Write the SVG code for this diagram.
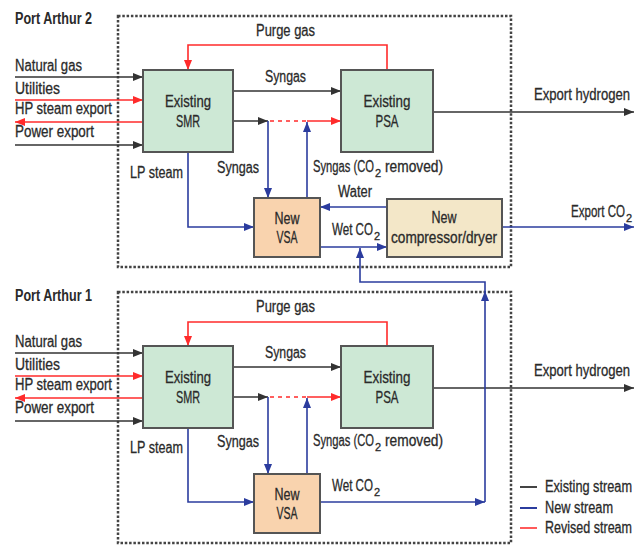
<svg xmlns="http://www.w3.org/2000/svg" width="637" height="545" viewBox="0 0 637 545">
<defs>
<style>
.t{font-family:"Liberation Sans",Arial,sans-serif;font-size:16px;fill:#2a2a2a;stroke:#2a2a2a;stroke-width:0.3;}
.s{font-size:11px;}
.bx{font-size:17px;}
.b{font-weight:bold;stroke-width:0;}
.c{text-anchor:middle;}
.frame{fill:none;stroke:#444;stroke-width:2.5;stroke-dasharray:2.5 1.8;}
.box{stroke:#555;stroke-width:2;}
.g{fill:#cde8d5;}
.p{fill:#f9d3ae;}
.y{fill:#f3e7c8;}
.k{fill:none;stroke:#333;stroke-width:1.6;}
.r{fill:none;stroke:#ff2b2b;stroke-width:1.6;}
.rd{fill:none;stroke:#ff2b2b;stroke-width:1.6;stroke-dasharray:4 4;}
.u{fill:none;stroke:#2b3c9e;stroke-width:1.6;}
</style>
<marker id="ak" viewBox="0 0 10 8" refX="10" refY="4" markerWidth="10" markerHeight="8" markerUnits="userSpaceOnUse" orient="auto"><path d="M0,0L10,4L0,8z" fill="#333"/></marker>
<marker id="ar" viewBox="0 0 10 8" refX="10" refY="4" markerWidth="10" markerHeight="8" markerUnits="userSpaceOnUse" orient="auto"><path d="M0,0L10,4L0,8z" fill="#ff2b2b"/></marker>
<marker id="au" viewBox="0 0 10 8" refX="10" refY="4" markerWidth="10" markerHeight="8" markerUnits="userSpaceOnUse" orient="auto"><path d="M0,0L10,4L0,8z" fill="#2b3c9e"/></marker>
</defs>
<rect width="637" height="545" fill="#fff"/>

<g id="frames">
<rect class="frame" x="118" y="16" width="393" height="251"/>
<rect class="frame" x="118" y="292" width="393" height="251"/>
<text class="t b" x="15" y="24" textLength="77" lengthAdjust="spacingAndGlyphs">Port Arthur 2</text>
<text class="t b" x="15" y="301" textLength="77" lengthAdjust="spacingAndGlyphs">Port Arthur 1</text>
</g>

<g id="connectors">
<path class="r" d="M387,70V45H188V70" marker-end="url(#ar)"/>
<path class="k" d="M15,77H143" marker-end="url(#ak)"/>
<path class="r" d="M15,100H143" marker-end="url(#ar)"/>
<path class="r" d="M143,122H15" marker-end="url(#ar)"/>
<path class="k" d="M15,145H143" marker-end="url(#ak)"/>
<path class="k" d="M233,91H341" marker-end="url(#ak)"/>
<path class="k" d="M233,121H268" marker-end="url(#ak)"/>
<path class="rd" d="M270,121H307"/>
<path class="r" d="M307,121H341" marker-end="url(#ar)"/>
<path class="u" d="M268,121V198" marker-end="url(#au)"/>
<path class="u" d="M307,198V122" marker-end="url(#au)"/>
<path class="u" d="M188,152V227H254" marker-end="url(#au)"/>
<path class="u" d="M387,207H320" marker-end="url(#au)"/>
<path class="u" d="M320,247H387" marker-end="url(#au)"/>
<path class="u" d="M502,227H634" marker-end="url(#au)"/>
<path class="k" d="M433,112H634" marker-end="url(#ak)"/>
<path class="r" d="M387,346V322H188V346" marker-end="url(#ar)"/>
<path class="k" d="M15,353H143" marker-end="url(#ak)"/>
<path class="r" d="M15,376H143" marker-end="url(#ar)"/>
<path class="r" d="M143,398H15" marker-end="url(#ar)"/>
<path class="k" d="M15,421H143" marker-end="url(#ak)"/>
<path class="k" d="M233,367H341" marker-end="url(#ak)"/>
<path class="k" d="M233,397H268" marker-end="url(#ak)"/>
<path class="rd" d="M270,397H307"/>
<path class="r" d="M307,397H341" marker-end="url(#ar)"/>
<path class="u" d="M268,397V474" marker-end="url(#au)"/>
<path class="u" d="M307,474V398" marker-end="url(#au)"/>
<path class="u" d="M188,428V502H254" marker-end="url(#au)"/>
<path class="k" d="M433,388H634" marker-end="url(#ak)"/>
<path class="u" d="M320,502H485" marker-end="url(#au)"/>
<path class="u" d="M485,502V291" marker-end="url(#au)"/>
<path class="u" d="M485,292V282H360V248" marker-end="url(#au)"/>
</g>

<g id="smr2"><rect class="box g" x="143" y="70" width="90" height="82"/>
<text class="t bx c" x="188" y="107" textLength="46" lengthAdjust="spacingAndGlyphs">Existing</text>
<text class="t bx c" x="188" y="127" textLength="24" lengthAdjust="spacingAndGlyphs">SMR</text></g>
<g id="psa2"><rect class="box g" x="341" y="70" width="92" height="82"/>
<text class="t bx c" x="387" y="107" textLength="47" lengthAdjust="spacingAndGlyphs">Existing</text>
<text class="t bx c" x="387" y="127" textLength="23" lengthAdjust="spacingAndGlyphs">PSA</text></g>
<g id="vsa2"><rect class="box p" x="254" y="198" width="66" height="59"/>
<text class="t c" x="287" y="224" textLength="25" lengthAdjust="spacingAndGlyphs">New</text>
<text class="t c" x="287" y="243" textLength="21" lengthAdjust="spacingAndGlyphs">VSA</text></g>
<g id="comp2"><rect class="box y" x="387" y="199" width="115" height="58"/>
<text class="t c" x="444" y="223" textLength="25" lengthAdjust="spacingAndGlyphs">New</text>
<text class="t c" x="444" y="243" textLength="106" lengthAdjust="spacingAndGlyphs">compressor/dryer</text></g>

<g id="smr1"><rect class="box g" x="143" y="346" width="90" height="82"/>
<text class="t bx c" x="188" y="383" textLength="46" lengthAdjust="spacingAndGlyphs">Existing</text>
<text class="t bx c" x="188" y="403" textLength="24" lengthAdjust="spacingAndGlyphs">SMR</text></g>
<g id="psa1"><rect class="box g" x="341" y="346" width="92" height="82"/>
<text class="t bx c" x="387" y="383" textLength="47" lengthAdjust="spacingAndGlyphs">Existing</text>
<text class="t bx c" x="387" y="403" textLength="23" lengthAdjust="spacingAndGlyphs">PSA</text></g>
<g id="vsa1"><rect class="box p" x="254" y="474" width="66" height="59"/>
<text class="t c" x="287" y="500" textLength="25" lengthAdjust="spacingAndGlyphs">New</text>
<text class="t c" x="287" y="519" textLength="21" lengthAdjust="spacingAndGlyphs">VSA</text></g>

<g id="labels">
<text class="t" x="256" y="36" textLength="59" lengthAdjust="spacingAndGlyphs">Purge gas</text>
<text class="t" x="15" y="71" textLength="67" lengthAdjust="spacingAndGlyphs">Natural gas</text>
<text class="t" x="15" y="94" textLength="45" lengthAdjust="spacingAndGlyphs">Utilities</text>
<text class="t" x="15" y="114" textLength="97" lengthAdjust="spacingAndGlyphs">HP steam export</text>
<text class="t" x="15" y="137" textLength="79" lengthAdjust="spacingAndGlyphs">Power export</text>
<text class="t" x="265" y="82" textLength="41" lengthAdjust="spacingAndGlyphs">Syngas</text>
<text class="t" x="534" y="100" textLength="96" lengthAdjust="spacingAndGlyphs">Export hydrogen</text>
<text class="t" x="130" y="178" textLength="53" lengthAdjust="spacingAndGlyphs">LP steam</text>
<text class="t" x="217" y="173" textLength="42" lengthAdjust="spacingAndGlyphs">Syngas</text>
<text class="t" x="313" y="172" textLength="61" lengthAdjust="spacingAndGlyphs">Syngas (CO</text>
<text class="t s" x="375" y="177">2</text>
<text class="t" x="385" y="172" textLength="58" lengthAdjust="spacingAndGlyphs">removed)</text>
<text class="t" x="338" y="197" textLength="34" lengthAdjust="spacingAndGlyphs">Water</text>
<text class="t" x="332" y="235" textLength="41" lengthAdjust="spacingAndGlyphs">Wet CO</text>
<text class="t s" x="374" y="240">2</text>
<text class="t" x="571" y="217" textLength="54" lengthAdjust="spacingAndGlyphs">Export CO</text>
<text class="t s" x="626" y="222">2</text>

<text class="t" x="256" y="312" textLength="59" lengthAdjust="spacingAndGlyphs">Purge gas</text>
<text class="t" x="15" y="347" textLength="67" lengthAdjust="spacingAndGlyphs">Natural gas</text>
<text class="t" x="15" y="370" textLength="45" lengthAdjust="spacingAndGlyphs">Utilities</text>
<text class="t" x="15" y="390" textLength="97" lengthAdjust="spacingAndGlyphs">HP steam export</text>
<text class="t" x="15" y="413" textLength="79" lengthAdjust="spacingAndGlyphs">Power export</text>
<text class="t" x="265" y="358" textLength="41" lengthAdjust="spacingAndGlyphs">Syngas</text>
<text class="t" x="534" y="376" textLength="96" lengthAdjust="spacingAndGlyphs">Export hydrogen</text>
<text class="t" x="130" y="453" textLength="53" lengthAdjust="spacingAndGlyphs">LP steam</text>
<text class="t" x="217" y="447" textLength="42" lengthAdjust="spacingAndGlyphs">Syngas</text>
<text class="t" x="313" y="446" textLength="61" lengthAdjust="spacingAndGlyphs">Syngas (CO</text>
<text class="t s" x="375" y="451">2</text>
<text class="t" x="385" y="446" textLength="58" lengthAdjust="spacingAndGlyphs">removed)</text>
<text class="t" x="332" y="491" textLength="41" lengthAdjust="spacingAndGlyphs">Wet CO</text>
<text class="t s" x="374" y="496">2</text>
</g>

<g id="legend">
<path d="M520,487H537" stroke="#444" stroke-width="2"/>
<path d="M520,508H537" stroke="#2b3c9e" stroke-width="2"/>
<path d="M520,528H537" stroke="#ff5a5a" stroke-width="2"/>
<text class="t" x="545" y="492" textLength="87" lengthAdjust="spacingAndGlyphs">Existing stream</text>
<text class="t" x="545" y="513" textLength="68" lengthAdjust="spacingAndGlyphs">New stream</text>
<text class="t" x="545" y="533" textLength="87" lengthAdjust="spacingAndGlyphs">Revised stream</text>
</g>
</svg>
